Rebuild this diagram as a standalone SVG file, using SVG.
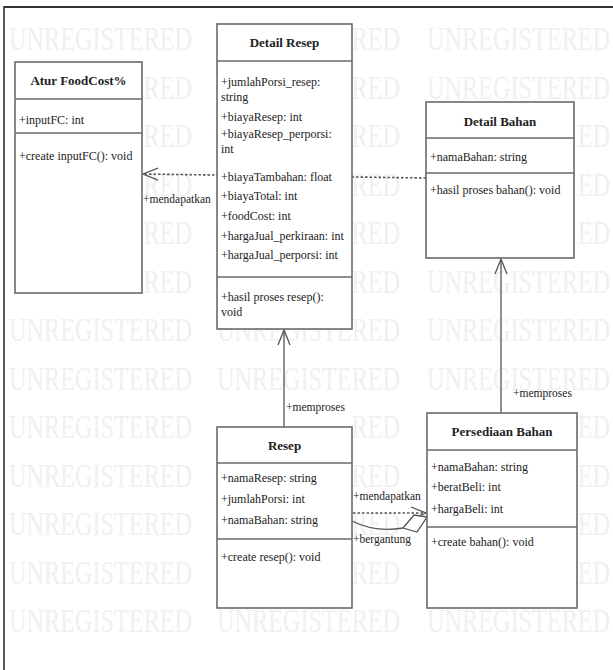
<svg xmlns="http://www.w3.org/2000/svg" width="613" height="670" viewBox="0 0 613 670">
<defs>
<style>
.wm{font-family:"Liberation Serif",serif;font-size:33px;fill:#f0f0f0}
.we{text-anchor:end}
.box{fill:#fff;stroke:#6a6a6a;stroke-width:1.6}
.sep{stroke:#6a6a6a;stroke-width:1.6}
.t{font-family:"Liberation Serif",serif;font-size:12px;fill:#222}
.h{font-family:"Liberation Serif",serif;font-size:13px;font-weight:bold;fill:#222;text-anchor:middle}
.ln{fill:none;stroke:#555;stroke-width:1.3}
.dash{fill:none;stroke:#555;stroke-width:1.6;stroke-dasharray:2.5 2}
.lbl{font-family:"Liberation Serif",serif;font-size:11.5px;fill:#222}
</style>
<marker id="open" markerWidth="20" markerHeight="14" refX="16" refY="7" orient="auto" markerUnits="userSpaceOnUse">
<path d="M1,1 L16,7 L1,13" fill="none" stroke="#555" stroke-width="1.3" stroke-dasharray="none"/>
</marker>
</defs>
<rect x="0" y="0" width="613" height="670" fill="#fff"/>
<g id="watermark">
<text class="wm" transform="translate(9,50) scale(0.735,1)">UNREGISTERED</text>
<text class="wm we" transform="translate(400,50) scale(0.735,1)">RED</text>
<text class="wm" transform="translate(427,50) scale(0.735,1)">UNREGISTERED</text>
<text class="wm we" transform="translate(192,98.5) scale(0.735,1)">RED</text>
<text class="wm we" transform="translate(400,98.5) scale(0.735,1)">RED</text>
<text class="wm" transform="translate(427,98.5) scale(0.735,1)">UNREGISTERED</text>
<text class="wm we" transform="translate(192,147) scale(0.735,1)">RED</text>
<text class="wm we" transform="translate(400,147) scale(0.735,1)">RED</text>
<text class="wm we" transform="translate(610,147) scale(0.735,1)">ED</text>
<text class="wm we" transform="translate(192,195.5) scale(0.735,1)">RED</text>
<text class="wm we" transform="translate(400,195.5) scale(0.735,1)">RED</text>
<text class="wm we" transform="translate(610,195.5) scale(0.735,1)">ED</text>
<text class="wm we" transform="translate(192,244) scale(0.735,1)">RED</text>
<text class="wm we" transform="translate(400,244) scale(0.735,1)">RED</text>
<text class="wm we" transform="translate(610,244) scale(0.735,1)">ED</text>
<text class="wm we" transform="translate(192,292.5) scale(0.735,1)">RED</text>
<text class="wm we" transform="translate(400,292.5) scale(0.735,1)">RED</text>
<text class="wm" transform="translate(427,292.5) scale(0.735,1)">UNREGISTERED</text>
<text class="wm" transform="translate(9,341) scale(0.735,1)">UNREGISTERED</text>
<text class="wm" transform="translate(217,341) scale(0.735,1)">UNREGISTERED</text>
<text class="wm" transform="translate(427,341) scale(0.735,1)">UNREGISTERED</text>
<text class="wm" transform="translate(9,389.5) scale(0.735,1)">UNREGISTERED</text>
<text class="wm" transform="translate(217,389.5) scale(0.735,1)">UNREGISTERED</text>
<text class="wm" transform="translate(427,389.5) scale(0.735,1)">UNREGISTERED</text>
<text class="wm" transform="translate(9,438) scale(0.735,1)">UNREGISTERED</text>
<text class="wm we" transform="translate(400,438) scale(0.735,1)">RED</text>
<text class="wm we" transform="translate(610,438) scale(0.735,1)">ED</text>
<text class="wm" transform="translate(9,486.5) scale(0.735,1)">UNREGISTERED</text>
<text class="wm we" transform="translate(400,486.5) scale(0.735,1)">RED</text>
<text class="wm we" transform="translate(610,486.5) scale(0.735,1)">ED</text>
<text class="wm" transform="translate(9,535) scale(0.735,1)">UNREGISTERED</text>
<text class="wm we" transform="translate(400,535) scale(0.735,1)">RED</text>
<text class="wm we" transform="translate(610,535) scale(0.735,1)">ED</text>
<text class="wm" transform="translate(9,583.5) scale(0.735,1)">UNREGISTERED</text>
<text class="wm we" transform="translate(400,583.5) scale(0.735,1)">RED</text>
<text class="wm we" transform="translate(610,583.5) scale(0.735,1)">ED</text>
<text class="wm" transform="translate(9,632) scale(0.735,1)">UNREGISTERED</text>
<text class="wm" transform="translate(217,632) scale(0.735,1)">UNREGISTERED</text>
<text class="wm" transform="translate(427,632) scale(0.735,1)">UNREGISTERED</text>
</g>
<g id="frame">
<line x1="4" y1="7" x2="613" y2="7" stroke="#333" stroke-width="2.2"/>
<line x1="4" y1="6" x2="4" y2="670" stroke="#333" stroke-width="1.6"/>
</g>
<g id="connectors">
<line class="dash" x1="426" y1="178" x2="143" y2="174" marker-end="url(#open)"/>
<text class="lbl" x="143" y="203">+mendapatkan</text>
<line class="ln" x1="284" y1="427" x2="284" y2="330" marker-end="url(#open)"/>
<text class="lbl" x="286" y="411">+memproses</text>
<line class="ln" x1="501" y1="413" x2="501" y2="259" marker-end="url(#open)"/>
<text class="lbl" x="513" y="397">+memproses</text>
<line class="dash" x1="353" y1="513" x2="426" y2="513" marker-end="url(#open)"/>
<text class="lbl" x="353" y="500">+mendapatkan</text>
<path class="ln" d="M352,521 Q376,533 403,528"/>
<path d="M427,517 L414,515 L403,528 L417,532 Z" fill="#fff" stroke="#555" stroke-width="1.3"/>
<text class="lbl" x="353" y="543">+bergantung</text>
</g>
<g id="atur-foodcost">
<rect class="box" x="15" y="62" width="127" height="231"/>
<line class="sep" x1="15" y1="99" x2="142" y2="99"/>
<line class="sep" x1="15" y1="133" x2="142" y2="133"/>
<text class="h" x="78.5" y="85">Atur FoodCost%</text>
<text class="t" x="19" y="124">+inputFC: int</text>
<text class="t" x="19" y="160">+create inputFC(): void</text>
</g>
<g id="detail-resep">
<rect class="box" x="217" y="24" width="135" height="305"/>
<line class="sep" x1="217" y1="61" x2="352" y2="61"/>
<line class="sep" x1="217" y1="277" x2="352" y2="277"/>
<text class="h" x="284.5" y="47">Detail Resep</text>
<text class="t" x="221" y="86">+jumlahPorsi_resep:</text>
<text class="t" x="221" y="101">string</text>
<text class="t" x="221" y="121">+biayaResep: int</text>
<text class="t" x="221" y="138">+biayaResep_perporsi:</text>
<text class="t" x="221" y="153">int</text>
<text class="t" x="221" y="181">+biayaTambahan: float</text>
<text class="t" x="221" y="200">+biayaTotal: int</text>
<text class="t" x="221" y="220">+foodCost: int</text>
<text class="t" x="221" y="240">+hargaJual_perkiraan: int</text>
<text class="t" x="221" y="259">+hargaJual_perporsi: int</text>
<text class="t" x="221" y="301">+hasil proses resep():</text>
<text class="t" x="221" y="316">void</text>
</g>
<g id="detail-bahan">
<rect class="box" x="426" y="102" width="148" height="156"/>
<line class="sep" x1="426" y1="138" x2="574" y2="138"/>
<line class="sep" x1="426" y1="173" x2="574" y2="173"/>
<text class="h" x="500" y="126">Detail Bahan</text>
<text class="t" x="430" y="161">+namaBahan: string</text>
<text class="t" x="430" y="194">+hasil proses bahan(): void</text>
</g>
<g id="resep">
<rect class="box" x="217" y="427" width="135" height="181"/>
<line class="sep" x1="217" y1="463" x2="352" y2="463"/>
<line class="sep" x1="217" y1="539" x2="352" y2="539"/>
<text class="h" x="284.5" y="450">Resep</text>
<text class="t" x="221" y="482">+namaResep: string</text>
<text class="t" x="221" y="503">+jumlahPorsi: int</text>
<text class="t" x="221" y="524">+namaBahan: string</text>
<text class="t" x="221" y="561">+create resep(): void</text>
</g>
<g id="persediaan-bahan">
<rect class="box" x="427" y="413" width="150" height="195"/>
<line class="sep" x1="427" y1="450" x2="577" y2="450"/>
<line class="sep" x1="427" y1="527" x2="577" y2="527"/>
<text class="h" x="502" y="436">Persediaan Bahan</text>
<text class="t" x="431" y="471">+namaBahan: string</text>
<text class="t" x="431" y="491">+beratBeli: int</text>
<text class="t" x="431" y="513">+hargaBeli: int</text>
<text class="t" x="431" y="546">+create bahan(): void</text>
</g>
</svg>
